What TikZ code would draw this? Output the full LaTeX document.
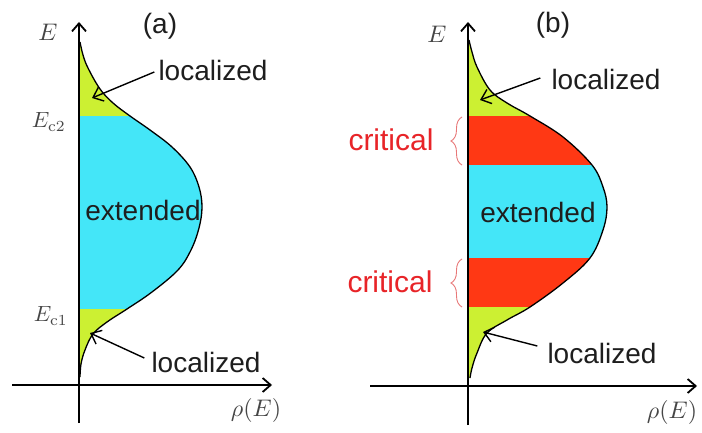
\RequirePackage{fix-cm}
\documentclass[tikz,border=0pt]{standalone}
\usepackage{fontspec}
\usepackage{graphicx}
\newfontfamily\arial{Liberation Sans}
\usetikzlibrary{arrows.meta,decorations.pathreplacing}
\definecolor{ygreen}{RGB}{204,240,50}
\definecolor{cyanb}{RGB}{68,230,248}
\definecolor{redb}{RGB}{255,56,20}
\definecolor{critred}{RGB}{232,36,40}
\definecolor{bracered}{RGB}{232,120,120}
\definecolor{mathgray}{RGB}{70,70,70}
\definecolor{textdark}{RGB}{30,30,30}
\begin{document}
\begin{tikzpicture}[x=1pt,y=-1pt,
  axisline/.style={line width=1.8pt,-{Straight Barb[length=8pt,width=14pt]}},
  ptr/.style={line width=1.4pt,-{Straight Barb[length=9pt,width=15pt]}},
  curveline/.style={line width=1.3pt},
  lbl/.style={font=\arial\fontsize{28}{30}\selectfont,text=textdark,inner sep=0pt},
  crit/.style={font=\arial\fontsize{30}{32}\selectfont,text=critred,inner sep=0pt},
  mlbl/.style={text=mathgray,inner sep=0pt},
  bracestyle/.style={draw=bracered,line width=0.9pt,decorate,decoration={brace,amplitude=11pt,aspect=0.5}}
]
\useasboundingbox (0,0) rectangle (702,433);
\fill[white] (0,0) rectangle (702,433);

% ---------------- panel (a) ----------------
\begin{scope}
\clip (79,42) -- plot[smooth,tension=0.6] coordinates {(80,42) (83,55) (88,68) (100,89) (113,103) (130,116) (150,130) (172,147) (190,167) (199,187) (202,207) (199,228) (191,250) (178,270) (152,292) (127,309) (107,322) (93,334) (85,350) (81,364) (80,377)} -- (79,377) -- cycle;
\fill[ygreen] (70,30) rectangle (260,116);
\fill[cyanb] (70,116) rectangle (260,309);
\fill[ygreen] (70,309) rectangle (260,390);
\end{scope}
\draw[curveline] plot[smooth,tension=0.6] coordinates {(80,42) (83,55) (88,68) (100,89) (113,103) (130,116) (150,130) (172,147) (190,167) (199,187) (202,207) (199,228) (191,250) (178,270) (152,292) (127,309) (107,322) (93,334) (85,350) (81,364) (80,377)};

\coordinate (aV0) at (79,423);
\coordinate (aV1) at (79,22);
\coordinate (aH0) at (12,385);
\coordinate (aH1) at (272,385);
\draw[axisline] (aV0) -- (aV1);
\draw[axisline] (aH0) -- (aH1);

\node[lbl] (titleA) at (160,26) {(a)};
\node[mlbl] (EA) at (48,32) {\scalebox{2.4}{$E$}};
\node[mlbl,anchor=east] (Ec2) at (66,122) {\scalebox{2.2}{$E_{\mathrm{c2}}$}};
\node[mlbl,anchor=east] (Ec1) at (68,316) {\scalebox{2.2}{$E_{\mathrm{c1}}$}};
\node[mlbl] (rhoA) at (256,410) {\scalebox{2.4}{$\rho(E)$}};
\node[lbl] (extA) at (143,210) {extended};
\node[lbl] (locAt) at (213,70) {localized};
\node[lbl] (locAb) at (206,362) {localized};
\coordinate (tipAt) at (92,98);
\coordinate (tipAb) at (90,333);
\draw[ptr] ([xshift=-4pt,yshift=-2pt]locAt.west) -- (tipAt);
\draw[ptr] ([xshift=-7pt,yshift=4pt]locAb.west) -- (tipAb);

% ---------------- panel (b) ----------------
\begin{scope}
\clip (468,40) -- plot[smooth,tension=0.6] coordinates {(469,40) (472,52) (477,67) (490,90) (507,103) (530,116) (563,137) (592,165) (603,187) (607,207) (603,230) (590,258) (563,283) (530,307) (507,320) (487,333) (477,353) (472,368) (470,378)} -- (468,378) -- cycle;
\fill[ygreen] (460,30) rectangle (660,116);
\fill[redb] (460,116) rectangle (660,165);
\fill[cyanb] (460,165) rectangle (660,258);
\fill[redb] (460,258) rectangle (660,307);
\fill[ygreen] (460,307) rectangle (660,390);
\end{scope}
\draw[curveline] plot[smooth,tension=0.6] coordinates {(469,40) (472,52) (477,67) (490,90) (507,103) (530,116) (563,137) (592,165) (603,187) (607,207) (603,230) (590,258) (563,283) (530,307) (507,320) (487,333) (477,353) (472,368) (470,378)};

\coordinate (bV0) at (468,425);
\coordinate (bV1) at (468,22);
\coordinate (bH0) at (370,386);
\coordinate (bH1) at (697,386);
\draw[axisline] (bV0) -- (bV1);
\draw[axisline] (bH0) -- (bH1);

\node[lbl] (titleB) at (553,25) {(b)};
\node[mlbl] (EB) at (437,34) {\scalebox{2.4}{$E$}};
\node[mlbl] (rhoB) at (672,412) {\scalebox{2.4}{$\rho(E)$}};
\node[lbl] (extB) at (538,212) {extended};
\node[lbl] (locBt) at (606,79) {localized};
\node[lbl] (locBb) at (602,353) {localized};
\coordinate (tipBt) at (480,100);
\coordinate (tipBb) at (483,332);
\draw[ptr] ([xshift=-11pt,yshift=1pt]locBt.west) -- (tipBt);
\draw[ptr] ([xshift=-10pt,yshift=7pt]locBb.west) -- (tipBb);

\node[crit] (critT) at (391,140) {critical};
\node[crit] (critB) at (390,282) {critical};
\coordinate (brT0) at (462,165);
\coordinate (brT1) at (462,117);
\coordinate (brB0) at (462,307);
\coordinate (brB1) at (462,259);
\draw[bracestyle] (brT0) -- (brT1);
\draw[bracestyle] (brB0) -- (brB1);
\end{tikzpicture}
\end{document}
